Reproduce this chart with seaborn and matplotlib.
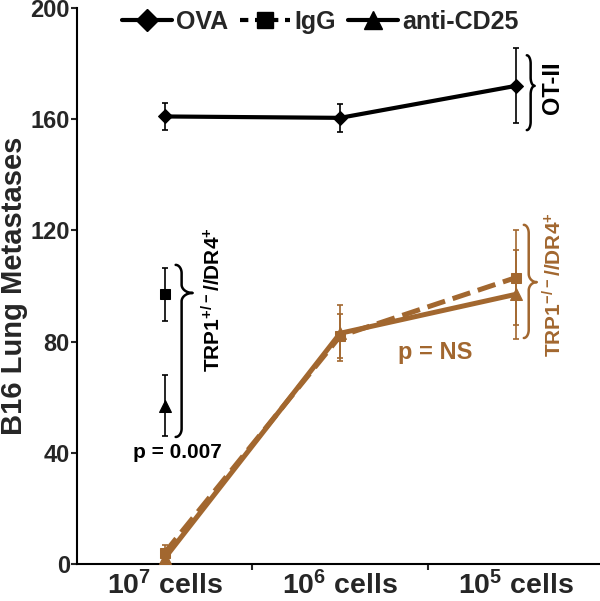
import numpy as np
import pandas as pd
import matplotlib
matplotlib.use("Agg")
import matplotlib.pyplot as plt
import seaborn as sns
from matplotlib.lines import Line2D
from matplotlib.legend_handler import HandlerLine2D

# ---------------- data ----------------
categories = ["10$^7$ cells", "10$^6$ cells", "10$^5$ cells"]
x_pos = [0, 1, 2]

ova_mean = [161, 160.5, 172]
ova_err = [5, 5, 13.5]

pos_igg_mean = [97]
pos_igg_err = [9.5]
pos_cd25_mean = [57]
pos_cd25_err = [11]

neg_igg_mean = [4, 82, 103]
neg_igg_err = [3, 8, 17]
neg_cd25_mean = [2, 83, 97]
neg_cd25_err = [2, 10, 16]

yticks = [0, 40, 80, 120, 160, 200]
legend_labels = ["OVA", "IgG", "anti-CD25"]

BLACK = "#000000"
BROWN = "#A2672F"

# ---------------- style ----------------
sns.set_style("ticks")
plt.rcParams["font.family"] = ["Liberation Sans", "DejaVu Sans"]
plt.rcParams["font.weight"] = "bold"
plt.rcParams["mathtext.fontset"] = "custom"
plt.rcParams["mathtext.default"] = "bf"
plt.rcParams["mathtext.bf"] = "Liberation Sans:bold"
plt.rcParams["mathtext.rm"] = "Liberation Sans:bold"

fig = plt.figure(figsize=(6, 6.01), dpi=100)
ax = fig.add_axes([0.128, 0.0616, 0.872, 0.925])


def series(xs, mean, err, color, marker, ms, ls, lw, dashes=None):
    ax.errorbar(xs, mean, yerr=err, fmt="none", ecolor=color, elinewidth=1.2,
                capsize=2.3, capthick=1.2, zorder=2)
    df = pd.DataFrame({"x": xs, "y": mean})
    kw = dict(linestyle=ls)
    if dashes is not None:
        kw["dashes"] = dashes
    sns.lineplot(data=df, x="x", y="y", ax=ax, color=color, marker=marker,
                 markersize=ms, markeredgecolor=color, linewidth=lw,
                 zorder=3, **kw)


# brown (TRP1-/-) series
series(x_pos, neg_igg_mean, neg_igg_err, BROWN, "s", 7.5, "--", 3.6, dashes=(3.0, 1.6))
series(x_pos, neg_cd25_mean, neg_cd25_err, BROWN, "^", 8.5, "-", 3.6)
# black OVA
series(x_pos, ova_mean, ova_err, BLACK, "D", 7, "-", 3.0)
# black TRP1+/- single points
series([0], pos_igg_mean, pos_igg_err, BLACK, "s", 7.5, "-", 3.0)
series([0], pos_cd25_mean, pos_cd25_err, BLACK, "^", 8.5, "-", 3.0)

# ---------------- axes ----------------
ax.set_xlim(-0.5, 2.48)
ax.set_ylim(0, 200)
ax.set_yticks(yticks)
ax.set_yticklabels([str(v) for v in yticks], fontsize=17, fontweight="bold")
ax.set_xticks(x_pos)
ax.set_xticklabels(categories, fontsize=20.5, fontweight="bold")
ax.set_xticks([0.5, 1.5], minor=True)
ax.tick_params(axis="x", which="major", length=0, pad=5)
ax.tick_params(axis="x", which="minor", length=4, width=1.5, direction="out")
ax.tick_params(axis="y", length=4, width=1.5, direction="out", pad=1)
ax.set_xlabel("")
ax.set_ylabel("B16 Lung Metastases", fontsize=21, fontweight="bold", labelpad=2)
for s in ["top", "right"]:
    ax.spines[s].set_visible(False)
for s in ["left", "bottom"]:
    ax.spines[s].set_linewidth(1.5)
    ax.spines[s].set_color("black")


# ---------------- braces ----------------
def brace(x_end, x_line, x_tip, y_bot, y_tip, y_top, r, color, lw=1.8):
    th = np.linspace(0, np.pi / 2, 30)
    dx_e = x_line - x_end
    dx_t = x_tip - x_line
    xs, ys = [], []
    xs += list(x_end + dx_e * np.sin(th)); ys += list(y_bot + r * (1 - np.cos(th)))
    xs += list(x_line + dx_t * (1 - np.cos(th))); ys += list(y_tip - r * (1 - np.sin(th)))
    xs += list(x_line + dx_t * (1 - np.cos(th[::-1]))); ys += list(y_tip + r * (1 - np.sin(th[::-1])))
    xs += list(x_end + dx_e * np.sin(th[::-1])); ys += list(y_top - r * (1 - np.cos(th[::-1])))
    ax.plot(xs, ys, color=color, lw=lw, clip_on=False, solid_capstyle="round")


brace(2.063, 2.085, 2.108, 156.1, 172.0, 183.0, 3.0, BLACK)
brace(0.063, 0.097, 0.160, 45.7, 97.5, 107.6, 3.0, BLACK)
brace(2.046, 2.074, 2.120, 81.3, 101.4, 122.0, 3.0, BROWN)

# ---------------- annotations ----------------
ax.text(2.211, 162, "OT-II", rotation=90, rotation_mode="anchor", ha="left",
        va="center", fontsize=17, fontweight="bold", color=BLACK)
ax.text(0.274, 69, "TRP1$^{+/-}$//DR4$^{+}$", rotation=90, rotation_mode="anchor",
        ha="left", va="center", fontsize=15, fontweight="bold", color=BLACK)
ax.text(2.217, 74.5, "TRP1$^{-/-}$//DR4$^{+}$", rotation=90, rotation_mode="anchor",
        ha="left", va="center", fontsize=15, fontweight="bold", color=BROWN, clip_on=False)
ax.text(0.075, 40, "p = 0.007", ha="center", va="center", fontsize=15,
        fontweight="bold", color=BLACK)
ax.text(1.544, 76, "p = NS", ha="center", va="center", fontsize=17,
        fontweight="bold", color=BROWN)


# ---------------- legend ----------------
class RightMarker(HandlerLine2D):
    def get_xdata(self, legend, xdescent, ydescent, width, height, fontsize):
        xdata = np.array([-xdescent, -xdescent + width])
        return xdata, np.array([-xdescent + width - 5.5])


handles = [
    Line2D([], [], color=BLACK, lw=3.0, marker="D", ms=11),
    Line2D([], [], color=BLACK, lw=3.0, ls=(0, (2.0, 1.6)), marker="s", ms=12),
    Line2D([], [], color=BLACK, lw=3.0, marker="^", ms=13),
]
leg = ax.legend(handles, legend_labels, loc="center", bbox_to_anchor=(0.465, 0.975),
                ncol=3, frameon=False, fontsize=18, handlelength=2.0,
                handletextpad=0.15, columnspacing=0.5,
                handler_map={h: RightMarker(numpoints=1) for h in handles})
for t in leg.get_texts():
    t.set_fontweight("bold")

fig.savefig("out.png", dpi=100)
